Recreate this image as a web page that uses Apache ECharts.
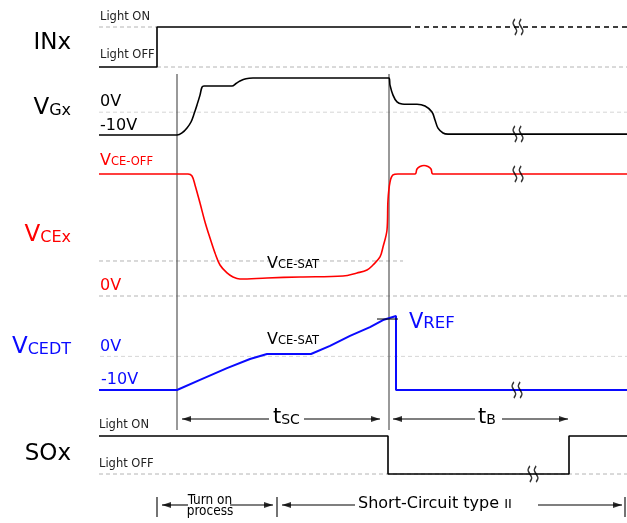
<!DOCTYPE html>
<html><head><meta charset="utf-8">
<script src="https://cdn.jsdelivr.net/npm/echarts@6/dist/echarts.min.js"></script>
<style>html,body{margin:0;padding:0;background:#fff}#c{width:627px;height:523px}</style>
</head><body><div id="c"></div>
<script>
// ---------- DATA (time units, signal units) ----------
const timeRange = [0, 528];
const inxSolid  = [[0,0],[58,0],[58,1],[307,1]];
const inxDashed = [[307,1],[528,1]];
const vgx = [[0,-10],[78,-10],[83,-9.1],[88,-6.9],[92,-4.3],[95,-0.8],[98,3.2],[101,7.5],[103,11],[105,11.5],[133,11.5],[137,12.6],[141,13.7],[147,14.7],[154,15],[290,15],[291,11.9],[294,7.5],[298,4.5],[303,3.6],[308,3.5],[318,3.5],[326,2.7],[333,0.1],[336,-3.4],[339,-7],[344,-9.1],[349,-9.6],[528,-9.6]];
const vcex = [[0,100],[89,100],[93,98.4],[96,91],[101,76.2],[106,60.7],[111,47.5],[116,35.2],[121,25.4],[128,18.9],[134,15.6],[141,13.9],[168,14.8],[201,15.6],[244,16.4],[258,18.9],[268,21.3],[274,25.4],[281,32],[284,40.2],[288,54.1],[289,78.7],[291,93.4],[294,99.2],[299,100],[316,100],[318,104.1],[321,106.1],[325,107],[329,106.1],[332,104.1],[334,100],[528,100]];
const vcedt = [[0,-10],[78,-10],[101,-7],[128,-3.5],[151,-0.8],[168,0.7],[212,0.7],[231,3.1],[251,6.1],[271,8.7],[284,10.8],[297,12],[297,-10],[528,-10]];
const vrefTick = [[278,11.1],[299,11.1]];
const sox = [[0,1],[289,1],[289,0],[470,0],[470,1],[528,1]];
const cursorTimes = [78, 290];
const breakPoints = [[0,[419,1]],[1,[419,-9.6]],[2,[419,100]],[3,[418,-10]],[4,[434,0]]];
// guides: [grid, level, tStart, tEnd]
const guides = [[0,1,0,58],[0,0,58,528],[1,0,0,528],[2,28.7,0,304],[2,0,0,528],[3,0,1,528],[4,0,0,528]];
// dimension rows (grid 6): segments [t1,t2,row], arrow tips [t,row,dir], bars [t,r1,r2]
const dimSegments = [[83,170,1.9],[205,281,1.9],[294,376,1.9],[403,469,1.9],[63,89,10.5],[131,174,10.5],[183,256,10.5],[439,523,10.5]];
const dimTips = [[83,1.9,-1],[281,1.9,1],[294,1.9,-1],[469,1.9,1],[63,10.5,-1],[174,10.5,1],[183,10.5,-1],[523,10.5,1]];
const dimBars = [[58,9.7,11.7],[178,9.7,11.7],[526,9.7,11.7]];

// ---------- LAYOUT ----------
const gridDefs = [[27,40,0,1],[78,57,-10,15],[174,122,0,100],[316,74,-10,12],[436,38,0,1],[74,356,0,1],[400,120,0,12,true]];
const RED='#ff0000', BLUE='#0a0aff', BLK='#000';
const F='DejaVu Sans';

function line(i, data, color, width, extra){
  return Object.assign({type:'line', xAxisIndex:i, yAxisIndex:i, data, showSymbol:false, symbol:'none',
    clip:false, silent:true, animation:false, lineStyle:{color, width}, z:3}, extra||{});
}
const series = [];
guides.forEach(([g,v,a,b])=>{
  const light = (g===1||g===3);
  const c = light?'#d6d6d6':'#b4b4b4';
  series.push(line(g, [[a,v],[b,v]], c, 1, {lineStyle:{color:c, width:1, type:[4,3]}, z:1}));
});
series.push(line(0, inxSolid, BLK, 1.6));
series.push(line(0, inxDashed, BLK, 1.5, {lineStyle:{color:BLK,width:1.5,type:[5,4]}}));
series.push(line(1, vgx, BLK, 1.6, {smooth:0.35}));
series.push(line(2, vcex, RED, 1.6, {smooth:0.35}));
series.push(line(3, vcedt, BLUE, 2));
series.push(line(3, vrefTick, BLK, 1));
series.push(line(4, sox, BLK, 1.6));
cursorTimes.forEach(t=>series.push(line(5, [[t,0],[t,1]], '#555', 1.2, {z:2})));
dimSegments.forEach(([a,b,r])=>series.push(line(6, [[a,r],[b,r]], BLK, 1.1)));
dimBars.forEach(([t,a,b])=>series.push(line(6, [[t,a],[t,b]], BLK, 1.1)));
series.push({type:'scatter', xAxisIndex:6, yAxisIndex:6, clip:false, silent:true, animation:false, z:4,
  symbol:'triangle', symbolSize:[6,9], itemStyle:{color:BLK},
  data: dimTips.map(([t,r,d])=>({value:[t - d*4.5, r], symbolRotate: d<0?90:-90}))});
const breakPath='path://M3,0C1,3.5 1,3.5 3,7C5,10.5 5,10.5 3,14M8,0C6,3.5 6,3.5 8,7C10,10.5 10,10.5 8,14';
breakPoints.forEach(([g,p])=>series.push({type:'scatter', xAxisIndex:g, yAxisIndex:g, clip:false, silent:true, animation:false, z:6,
  symbol:breakPath, symbolSize:[10,16], itemStyle:{color:'rgba(0,0,0,0)', borderColor:BLK, borderWidth:1.7}, data:[p]}));

// ---------- TEXT ----------
function plain(x,y,text,size,color,align,family){
  return {type:'text', x, y, silent:true, z:10, style:{text, fill:color||BLK, fontSize:size, fontFamily:family||F, align:align||'left', verticalAlign:'middle'}};
}
function sub(x,y,big,small,s1,s2,color,align){
  return {type:'text', x, y, silent:true, z:10, style:{text:'{a|'+big+'}{b|'+small+'}', fill:color, fontFamily:F, align:align||'left', verticalAlign:'middle',
    rich:{a:{fontSize:s1, fontFamily:F, fill:color, verticalAlign:'bottom'}, b:{fontSize:s2, fontFamily:F, fill:color, verticalAlign:'bottom', padding:[0,0,1,0]}}}};
}
const NARROW='Liberation Sans Narrow, DejaVu Sans Condensed, sans-serif';
const graphics = [
  plain(71,43,'INx',23,BLK,'right'),
  plain(100,17,'Light ON',11.5,'#222'),
  plain(100,55,'Light OFF',11.5,'#222'),
  sub(71,108,'V','Gx',23,16,BLK,'right'),
  plain(100,102,'0V',16,BLK),
  plain(100,126,'-10V',16,BLK),
  sub(100,161,'V','CE-OFF',16,11.5,RED),
  sub(71,235,'V','CEx',23,16,RED,'right'),
  plain(100,286,'0V',16,RED),
  sub(267,264,'V','CE-SAT',16,11.5,BLK),
  sub(71,347,'V','CEDT',23,16,BLUE,'right'),
  plain(100,347,'0V',16,BLUE),
  plain(101,380,'-10V',16,BLUE),
  sub(267,340,'V','CE-SAT',16,11.5,BLK),
  sub(409,323,'V','REF',21,16.5,BLUE),
  plain(99,425,'Light ON',11.5,'#222'),
  plain(99,464,'Light OFF',11.5,'#222'),
  plain(71,454,'SOx',23,BLK,'right'),
  sub(273,418,'t','SC',21,14,BLK),
  sub(478,418,'t','B',21,14,BLK),
  plain(210,500,'Turn on',13.5,BLK,'center',NARROW),
  plain(210,511,'process',13.5,BLK,'center',NARROW),
  sub(358,504,'Short-Circuit type ','II',16,13,BLK)
];

const chart = echarts.init(document.getElementById('c'));
chart.setOption({
  animation:false,
  backgroundColor:'#fff',
  grid: gridDefs.map(([top,height])=>({left:99, width:528, top, height, show:false})),
  xAxis: gridDefs.map((g,i)=>({type:'value', gridIndex:i, min:timeRange[0], max:timeRange[1], show:false})),
  yAxis: gridDefs.map(([t,h,a,b,inv],i)=>({type:'value', gridIndex:i, min:a, max:b, inverse:!!inv, show:false})),
  series,
  graphic: graphics
});
</script></body></html>
